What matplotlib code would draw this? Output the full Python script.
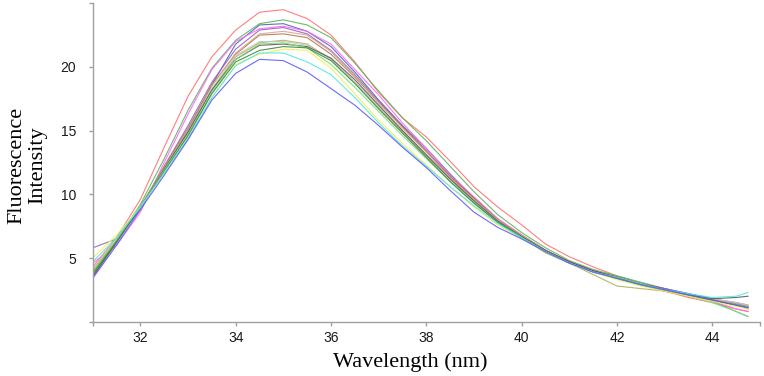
import numpy as np
import matplotlib
matplotlib.use('Agg')
import matplotlib.pyplot as plt

# wavelength grid (nm)
wl = [31, 31.5, 32, 32.5, 33, 33.5, 34, 34.5, 35, 35.5, 36, 36.5, 37, 37.5,
      38, 38.5, 39, 39.5, 40, 40.5, 41, 41.5, 42, 42.5, 43, 43.5, 44, 44.5, 44.75]

# one spectrum per sample
red = [4.3, 6.6, 9.6, 13.7, 17.7, 20.8, 22.9, 24.3, 24.5, 23.8, 22.5, 20.4, 18.0, 16.0,
       14.5, 12.6, 10.6, 9.0, 7.6, 6.1, 5.1, 4.3, 3.6, 3.0, 2.4, 1.9, 1.5, 1.0, 0.8]
green = [3.8, 6.4, 9.2, 12.8, 16.6, 19.9, 22.1, 23.4, 23.7, 23.3, 22.3, 20.3, 18.1, 16.0,
         14.2, 12.2, 10.2, 8.4, 7.0, 5.8, 4.8, 4.1, 3.6, 3.1, 2.6, 2.1, 1.6, 0.8, 0.4]
navy = [3.6, 6.3, 9.0, 12.0, 15.0, 18.6, 21.8, 23.3, 23.4, 22.8, 21.6, 19.6, 17.4, 15.4,
        13.6, 11.6, 9.7, 8.0, 6.8, 5.6, 4.7, 4.0, 3.5, 3.0, 2.6, 2.2, 1.8, 1.4, 1.2]
magenta = [4.6, 6.0, 8.6, 12.5, 16.3, 19.8, 22.0, 23.0, 23.2, 22.8, 21.8, 19.8, 17.8, 15.6,
           13.6, 11.5, 9.8, 8.1, 6.8, 5.6, 4.7, 3.9, 3.4, 2.9, 2.4, 2.0, 1.6, 1.0, 0.8]
purple = [5.8, 6.5, 8.8, 12.2, 15.4, 18.8, 21.4, 22.9, 23.1, 22.6, 21.3, 19.4, 17.3, 15.3,
          13.4, 11.4, 9.7, 8.0, 6.7, 5.6, 4.7, 4.0, 3.5, 3.0, 2.6, 2.2, 1.8, 1.5, 1.3]
brown = [3.9, 6.4, 9.0, 12.2, 15.2, 18.6, 21.0, 22.5, 22.6, 22.3, 21.0, 19.2, 17.2, 15.3,
         13.4, 11.4, 9.7, 8.0, 6.8, 5.6, 4.7, 3.9, 3.4, 2.9, 2.4, 2.0, 1.7, 1.3, 1.0]
tan = [4.1, 6.5, 9.0, 12.1, 15.0, 18.5, 21.1, 22.6, 22.8, 22.5, 21.2, 19.3, 17.2, 15.2,
       13.3, 11.3, 9.6, 8.0, 6.8, 5.6, 4.6, 3.9, 3.4, 2.9, 2.4, 2.0, 1.7, 1.3, 1.1]
olive = [3.7, 6.4, 9.0, 12.0, 14.8, 18.2, 20.8, 21.9, 22.1, 21.8, 20.6, 18.8, 16.8, 14.9,
         13.0, 11.2, 9.4, 7.9, 6.6, 5.4, 4.6, 3.7, 2.8, 2.6, 2.4, 2.1, 1.8, 1.4, 1.2]
lightgray = [4.2, 6.5, 9.0, 12.0, 14.9, 18.3, 20.9, 22.0, 22.0, 21.7, 20.6, 18.8, 16.9, 15.0,
             13.1, 11.2, 9.5, 7.9, 6.7, 5.5, 4.6, 3.9, 3.4, 2.9, 2.5, 2.1, 1.8, 1.5, 1.3]
darkgray = [3.5, 6.2, 9.0, 12.0, 14.9, 18.2, 20.6, 21.7, 21.8, 21.6, 20.7, 19.0, 17.0, 15.0,
            13.1, 11.2, 9.5, 7.9, 6.7, 5.6, 4.7, 4.0, 3.5, 3.0, 2.5, 2.1, 1.8, 1.9, 2.0]
lightgreen = [4.0, 6.4, 9.0, 11.9, 14.7, 18.0, 20.6, 21.8, 21.9, 21.5, 20.2, 18.4, 16.5, 14.6,
              12.8, 11.0, 9.3, 7.8, 6.6, 5.5, 4.6, 3.9, 3.5, 3.0, 2.5, 2.0, 1.5, 0.8, 0.4]
darkgreen = [3.7, 6.3, 9.0, 11.8, 14.6, 17.9, 20.4, 21.3, 21.6, 21.5, 20.5, 18.7, 16.7, 14.8,
             12.9, 11.0, 9.3, 7.8, 6.6, 5.5, 4.6, 3.9, 3.4, 2.9, 2.5, 2.1, 1.7, 1.3, 1.1]
yellow = [5.0, 6.8, 9.0, 11.6, 14.3, 17.6, 20.2, 21.0, 21.4, 21.3, 19.9, 17.9, 15.8, 14.0,
          12.3, 10.6, 9.0, 7.6, 6.5, 5.5, 4.6, 3.9, 3.3, 2.8, 2.4, 2.0, 1.6, 1.2, 1.0]
cyan = [4.7, 6.6, 9.0, 11.7, 14.4, 17.6, 20.1, 21.1, 21.1, 20.4, 19.4, 17.6, 15.6, 13.8,
        12.2, 10.6, 9.1, 7.7, 6.6, 5.5, 4.6, 3.9, 3.4, 2.9, 2.5, 2.2, 1.9, 2.0, 2.3]
blue = [3.4, 6.0, 8.8, 11.5, 14.3, 17.4, 19.5, 20.6, 20.5, 19.6, 18.3, 17.0, 15.4, 13.7,
        12.1, 10.3, 8.6, 7.4, 6.5, 5.5, 4.6, 3.9, 3.4, 2.9, 2.5, 2.1, 1.7, 1.3, 1.1]

series = [
    (red, '#ff7070'), (green, '#5fb35f'), (navy, '#4a68a8'), (magenta, '#ff66ff'),
    (purple, '#9a5fc0'), (brown, '#b07850'), (tan, '#d4aa8a'), (olive, '#b4ae5a'),
    (lightgray, '#c8c8c8'), (darkgray, '#5a5a5a'), (lightgreen, '#78e078'),
    (darkgreen, '#3a8a3a'), (yellow, '#f2f050'), (cyan, '#55e5e5'), (blue, '#5a5aff'),
]

fig = plt.figure(figsize=(7.64, 3.76), dpi=100)
ax = fig.add_axes([92.7/764, 1 - 321.7/376, (760 - 92.7)/764, (321.7 - 3.3)/376])

for vals, c in series:
    ax.plot(wl, vals, color=c, lw=0.8, alpha=0.9)

ax.set_xlim(31, 45)
ax.set_ylim(0, 25)

ax.set_xticks([31] + list(range(32, 45, 2)) + [45])
ax.set_xticklabels([''] + [str(v) for v in range(32, 45, 2)] + [''])
ax.set_yticks([0, 5, 10, 15, 20, 25])
ax.set_yticklabels(['', '5', '10', '15', '20', ''])

for s in ['top', 'right']:
    ax.spines[s].set_visible(False)
for s in ['left', 'bottom']:
    ax.spines[s].set_color('#a0a0a0')
    ax.spines[s].set_linewidth(1.0)

ax.tick_params(axis='both', direction='out', length=3, width=1.0, color='#a0a0a0',
               labelsize=10, labelcolor='#1a1a1a')
ax.tick_params(axis='x', pad=4)
ax.tick_params(axis='y', pad=9)
for lab in ax.get_xticklabels() + ax.get_yticklabels():
    lab.set_family('Liberation Sans')

ax.set_xlabel('Wavelength (nm)', family='Liberation Serif', fontsize=16)
ax.set_ylabel('Fluorescence\nIntensity', family='Liberation Serif', fontsize=16,
              linespacing=1.15)
ax.xaxis.set_label_coords(0.4755, -0.095)
ax.yaxis.set_label_coords(-0.068, 0.49)

fig.savefig('out.png', dpi=100)
